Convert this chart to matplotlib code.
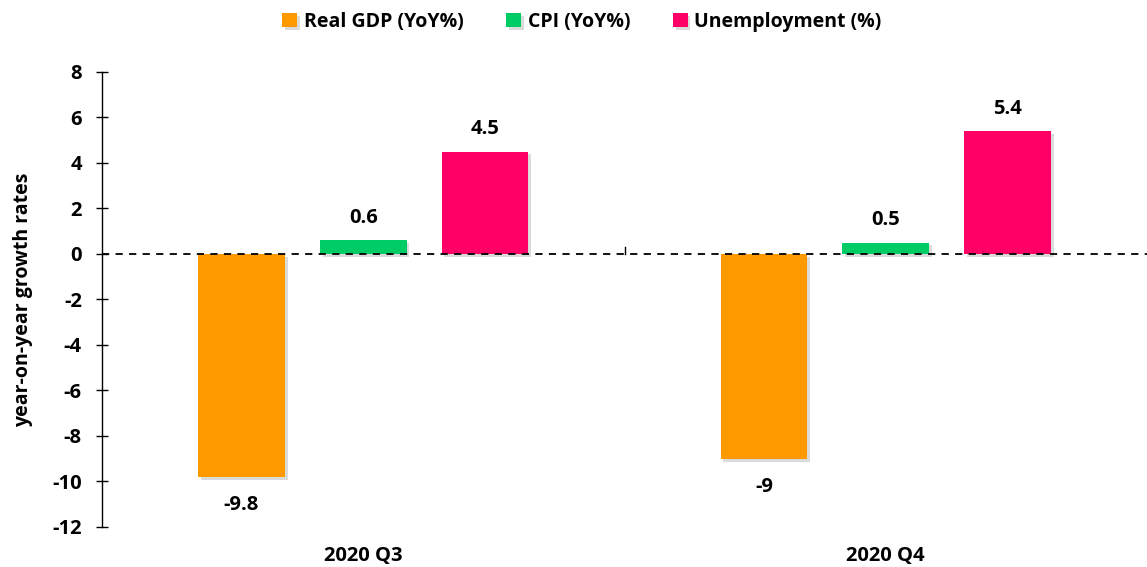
import numpy as np
import matplotlib.pyplot as plt
import matplotlib.patheffects as pe

plt.rcParams['font.family'] = ['Open Sans', 'DejaVu Sans']
plt.rcParams['font.weight'] = 'bold'

# quarterly macro indicators
quarters = ['2020 Q3', '2020 Q4']
series_names = ['Real GDP (YoY%)', 'CPI (YoY%)', 'Unemployment (%)']
gdp = [-9.8, -9]
cpi = [0.6, 0.5]
unemployment = [4.5, 5.4]
gdp_labels = ['-9.8', '-9']
cpi_labels = ['0.6', '0.5']
unemp_labels = ['4.5', '5.4']
colors = ['#FF9900', '#00CC66', '#FF0066']
yticks = np.arange(-12, 9, 2)

fig = plt.figure(figsize=(11.47, 5.67), dpi=100)
ax = fig.add_axes([102 / 1147, 1 - 527 / 567, 1 - 102 / 1147, (527 - 72) / 567])

x = np.arange(len(quarters))
width = 0.166
offset = 0.233
shadow = [pe.SimplePatchShadow(offset=(2, -2), shadow_rgbFace='#888888', alpha=0.3), pe.Normal()]

handles = []
for i, (vals, labs) in enumerate(zip([gdp, cpi, unemployment], [gdp_labels, cpi_labels, unemp_labels])):
    bars = ax.bar(x + (i - 1) * offset, vals, width, color=colors[i], label=series_names[i], zorder=2)
    for b in bars:
        b.set_path_effects(shadow)
    handles.append(bars)
    for b, v, t in zip(bars, vals, labs):
        dy = 16 if v >= 0 else -20
        ax.annotate(t, (b.get_x() + b.get_width() / 2, v), xytext=(0, dy), textcoords='offset points',
                    ha='center', va='center', fontsize=14.5, fontweight='bold', color='black')

ax.axhline(0, color='black', lw=1.3, ls=(0, (4, 3.5)), zorder=3)
# small category divider tick on the zero line
ax.plot([0.5, 0.5], [0, 0.3], color='black', lw=1, zorder=3)

ax.set_xlim(-0.5, 1.5)
ax.set_ylim(-12, 8)
ax.set_yticks(yticks)
ax.set_yticklabels([str(v) for v in yticks], fontsize=14.5, fontweight='bold')
ax.set_xticks(x)
ax.set_xticklabels(quarters, fontsize=14.5, fontweight='bold')
ax.tick_params(axis='x', length=0, pad=14)
ax.tick_params(axis='y', direction='inout', length=9, width=1, pad=10)
for s in ['top', 'right', 'bottom']:
    ax.spines[s].set_visible(False)
ax.spines['left'].set_linewidth(1)
ax.set_ylabel('year-on-year growth rates', fontsize=14, fontweight='bold', labelpad=14)

fig.legend(handles=handles, labels=series_names, loc='center', bbox_to_anchor=(582 / 1147, 1 - 22 / 567),
           ncol=3, frameon=False, fontsize=14, handlelength=0.75, handleheight=0.75,
           handletextpad=0.35, columnspacing=2.2)

fig.savefig('out.png', dpi=100)
